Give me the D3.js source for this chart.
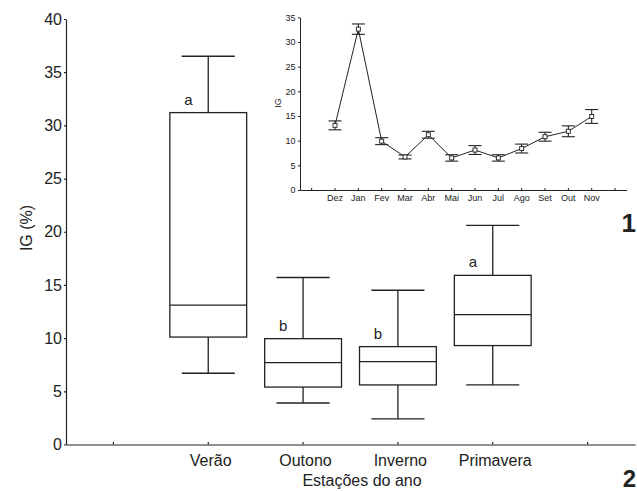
<!DOCTYPE html>
<html><head><meta charset="utf-8">
<script src="https://cdn.jsdelivr.net/npm/d3@7"></script>
<style>
body{margin:0;background:#fff}
svg{display:block}
text{font-family:"Liberation Sans",Arial,sans-serif;fill:#222}
</style>
</head><body><svg id="c" width="637" height="491"></svg>
<script>
// ---- main chart data (box plots) ----
const seasons = ["Verão","Outono","Inverno","Primavera"];
const seasonSlots = ["", "Verão","Outono","Inverno","Primavera",""];
const whiskerLow  = [6.7, 3.9, 2.4, 5.6];
const q1          = [10.1, 5.4, 5.6, 9.3];
const median      = [13.1, 7.7, 7.8, 12.2];
const q3          = [31.2, 9.95, 9.2, 15.9];
const whiskerHigh = [36.5, 15.7, 14.5, 20.6];
const groupLetters = ["a","b","b","a"];
const mainYTicks = [0,5,10,15,20,25,30,35,40];

// ---- inset data (monthly means ± error) ----
const months = ["Dez","Jan","Fev","Mar","Abr","Mai","Jun","Jul","Ago","Set","Out","Nov"];
const monthSlots = ["", "Dez","Jan","Fev","Mar","Abr","Mai","Jun","Jul","Ago","Set","Out","Nov", ""];
const monthMean = [13.1, 32.6, 9.9, 6.7, 11.2, 6.5, 8.1, 6.5, 8.4, 10.8, 11.9, 14.9];
const monthErr  = [0.9, 1.05, 0.7, 0.4, 0.7, 0.65, 0.9, 0.65, 0.9, 0.9, 1.1, 1.4];
const insetYTicks = [0,5,10,15,20,25,30,35];

const ink = "#222";
const svg = d3.select("#c");

// ================= MAIN CHART =================
const y = d3.scaleLinear().domain([0,40]).range([444.5,19]);
const x = d3.scaleBand().domain(d3.range(seasonSlots.length)).range([66,635]);
const bw = x.bandwidth();
const boxW = bw*0.81, capW = bw*0.56;

const gx = svg.append("g").attr("transform","translate(0,444.5)")
  .call(d3.axisBottom(x).tickFormat(i=>seasonSlots[i]).tickSizeInner(-2.5).tickSizeOuter(0).tickPadding(10.6));
gx.selectAll("text").attr("font-size",16).attr("fill",ink).attr("dx","0.15em");
const gy = svg.append("g").attr("transform","translate(66,0)")
  .call(d3.axisLeft(y).tickValues(mainYTicks).tickFormat(d3.format("d")).tickSizeInner(2).tickSizeOuter(0).tickPadding(2));
gy.selectAll("text").attr("font-size",16).attr("fill",ink);
svg.selectAll(".domain,.tick line").attr("stroke",ink).attr("stroke-width",1.2);

const boxes = seasons.map((s,i)=>({s, lo:whiskerLow[i], q1:q1[i], med:median[i], q3:q3[i], hi:whiskerHigh[i], letter:groupLetters[i]}));
const bg = svg.append("g").selectAll("g").data(boxes).join("g")
  .attr("transform",d=>`translate(${x(seasonSlots.indexOf(d.s))+bw/2},0)`)
  .attr("stroke",ink).attr("stroke-width",1.3).attr("fill","none");
bg.append("line").attr("x1",0).attr("x2",0).attr("y1",d=>y(d.hi)).attr("y2",d=>y(d.q3));
bg.append("line").attr("x1",0).attr("x2",0).attr("y1",d=>y(d.q1)).attr("y2",d=>y(d.lo));
bg.append("line").attr("x1",-capW/2).attr("x2",capW/2).attr("y1",d=>y(d.hi)).attr("y2",d=>y(d.hi));
bg.append("line").attr("x1",-capW/2).attr("x2",capW/2).attr("y1",d=>y(d.lo)).attr("y2",d=>y(d.lo));
bg.append("rect").attr("x",-boxW/2).attr("width",boxW).attr("y",d=>y(d.q3)).attr("height",d=>y(d.q1)-y(d.q3)).attr("fill","#fff");
bg.append("line").attr("x1",-boxW/2).attr("x2",boxW/2).attr("y1",d=>y(d.med)).attr("y2",d=>y(d.med));
bg.append("text").attr("stroke","none").attr("fill",ink).attr("font-size",15)
  .attr("text-anchor","middle").attr("x",-bw*0.21).attr("y",d=>y(d.q3)-8).text(d=>d.letter);

svg.append("text").attr("transform","translate(32,228) rotate(-90)").attr("text-anchor","middle")
  .attr("font-size",16).text("IG (%)");
svg.append("text").attr("x",362).attr("y",486).attr("text-anchor","middle").attr("font-size",16).text("Estações do ano");

svg.append("text").attr("x",636).attr("y",232).attr("text-anchor","end").attr("font-size",26).attr("font-weight","bold").text("1");
svg.append("text").attr("x",636).attr("y",487).attr("text-anchor","end").attr("font-size",24).attr("font-weight","bold").text("2");

// ================= INSET =================
const iy = d3.scaleLinear().domain([0,35]).range([190,17.3]);
const ix = d3.scaleBand().domain(d3.range(monthSlots.length)).range([300,626.7]);
const ibw = ix.bandwidth();
const ins = svg.append("g");
const igx = ins.append("g").attr("transform","translate(0,190)")
  .call(d3.axisBottom(ix).tickFormat(i=>monthSlots[i]).tickSizeInner(-2).tickSizeOuter(0).tickPadding(5));
igx.selectAll("text").attr("font-size",9).attr("fill",ink);
const igy = ins.append("g").attr("transform","translate(300,0)")
  .call(d3.axisLeft(iy).tickValues(insetYTicks).tickFormat(d3.format("d")).tickSizeInner(2).tickSizeOuter(0).tickPadding(2.5));
igy.selectAll("text").attr("font-size",9).attr("fill",ink);
ins.selectAll(".domain,.tick line").attr("stroke",ink).attr("stroke-width",1);
ins.append("text").attr("transform","translate(280.5,103) rotate(-90)").attr("text-anchor","middle").attr("font-size",9).text("IG");

const pts = months.map((m,i)=>({m, v:monthMean[i], e:monthErr[i], cx: ix(monthSlots.indexOf(m))+ibw/2}));
ins.append("path").datum(pts).attr("fill","none").attr("stroke",ink).attr("stroke-width",1)
  .attr("d", d3.line().x(d=>d.cx).y(d=>iy(d.v)));
const eg = ins.append("g").selectAll("g").data(pts).join("g").attr("stroke",ink).attr("stroke-width",1.1);
eg.append("line").attr("x1",d=>d.cx).attr("x2",d=>d.cx).attr("y1",d=>iy(d.v+d.e)).attr("y2",d=>iy(d.v-d.e));
eg.append("line").attr("x1",d=>d.cx-6.5).attr("x2",d=>d.cx+6.5).attr("y1",d=>iy(d.v+d.e)).attr("y2",d=>iy(d.v+d.e));
eg.append("line").attr("x1",d=>d.cx-6.5).attr("x2",d=>d.cx+6.5).attr("y1",d=>iy(d.v-d.e)).attr("y2",d=>iy(d.v-d.e));
eg.append("rect").attr("x",d=>d.cx-2).attr("y",d=>iy(d.v)-2).attr("width",4).attr("height",4).attr("fill","#fff").attr("stroke-width",0.9);
</script>
</body></html>
